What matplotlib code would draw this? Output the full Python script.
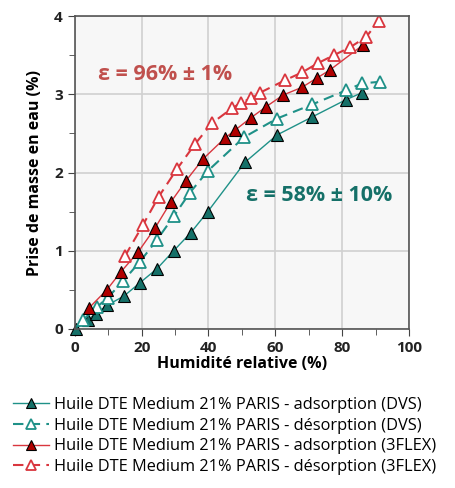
import numpy as np
import matplotlib.pyplot as plt
from matplotlib.ticker import MultipleLocator

plt.rcParams['font.family'] = ['Open Sans', 'DejaVu Sans']

# DVS adsorption
dvs_ads_x = [0.3, 3.9, 6.3, 9.6, 14.7, 19.5, 24.6, 29.6, 34.7, 39.8, 50.9, 60.5, 71.0, 81.1, 85.9]
dvs_ads_y = [0.0, 0.12, 0.19, 0.30, 0.42, 0.59, 0.77, 1.00, 1.23, 1.50, 2.13, 2.48, 2.71, 2.93, 3.02]
# DVS desorption
dvs_des_x = [2.4, 6.6, 9.9, 14.4, 19.5, 24.6, 29.6, 34.4, 39.8, 50.6, 60.5, 71.0, 81.1, 86.0, 91.3]
dvs_des_y = [0.11, 0.28, 0.40, 0.61, 0.86, 1.14, 1.44, 1.74, 2.02, 2.45, 2.69, 2.87, 3.05, 3.14, 3.16]
# 3FLEX adsorption
flex_ads_x = [4.3, 9.6, 13.8, 18.9, 24.0, 28.7, 33.2, 38.3, 44.9, 47.9, 52.7, 57.2, 62.3, 68.0, 72.5, 76.3, 86.2]
flex_ads_y = [0.27, 0.50, 0.73, 0.98, 1.29, 1.62, 1.89, 2.17, 2.44, 2.54, 2.70, 2.84, 2.99, 3.09, 3.21, 3.31, 3.63]
# 3FLEX desorption
flex_des_x = [15.0, 20.4, 25.1, 30.5, 35.9, 41.0, 47.0, 49.7, 52.7, 55.4, 62.9, 68.0, 72.8, 77.5, 82.3, 87.1, 91.0]
flex_des_y = [0.93, 1.33, 1.69, 2.04, 2.36, 2.63, 2.82, 2.89, 2.95, 3.02, 3.18, 3.28, 3.40, 3.50, 3.60, 3.73, 3.94]

labels = [
    "Huile DTE Medium 21% PARIS - adsorption (DVS)",
    "Huile DTE Medium 21% PARIS - désorption (DVS)",
    "Huile DTE Medium 21% PARIS - adsorption (3FLEX)",
    "Huile DTE Medium 21% PARIS - désorption (3FLEX)",
]

teal = "#1f9188"
teal_dark = "#157068"
red = "#d9363e"
red_dark = "#b00000"

fig = plt.figure(figsize=(4.56, 4.88), dpi=100)
ax = fig.add_axes([0.164, 0.326, 0.733, 0.641])
ax.set_facecolor("#f7f7f7")

ms = 8.5
l1, = ax.plot(dvs_ads_x, dvs_ads_y, color=teal, lw=1, marker="^", ms=ms,
              mfc=teal_dark, mec="black", mew=0.8, clip_on=False)
l2, = ax.plot(dvs_des_x, dvs_des_y, color=teal, lw=1.5, ls=(0, (5, 3)), marker="^", ms=ms,
              mfc="white", mec=teal, mew=1.3)
l3, = ax.plot(flex_ads_x, flex_ads_y, color=red, lw=1, marker="^", ms=ms,
              mfc=red_dark, mec="black", mew=0.8)
l4, = ax.plot(flex_des_x, flex_des_y, color=red, lw=1.5, ls=(0, (5, 3)), marker="^", ms=ms,
              mfc="white", mec=red, mew=1.3)

ax.set_xlim(0, 100)
ax.set_ylim(0, 4)
ax.xaxis.set_major_locator(MultipleLocator(20))
ax.xaxis.set_minor_locator(MultipleLocator(10))
ax.yaxis.set_major_locator(MultipleLocator(1))
ax.yaxis.set_minor_locator(MultipleLocator(0.5))
ax.grid(True, which="major", color="#d0d0d0", lw=1.2)
ax.set_axisbelow(True)
ax.tick_params(which="both", direction="out", color="#444444", labelsize=11)
ax.tick_params(which="major", length=5)
ax.tick_params(which="minor", length=4)
for lab in ax.get_xticklabels() + ax.get_yticklabels():
    lab.set_fontweight("bold")
    lab.set_color("#222222")
for s in ax.spines.values():
    s.set_color("#555555")
    s.set_linewidth(1.2)

ax.set_xlabel("Humidité relative (%)", fontsize=11.5, fontweight="bold", labelpad=1)
ax.set_ylabel("Prise de masse en eau (%)", fontsize=11.5, fontweight="bold", labelpad=8)

ax.text(27, 3.25, "ε = 96% ± 1%", color="#c0504d", fontsize=15.5, fontweight="bold",
        ha="center", va="center")
ax.text(73, 1.71, "ε = 58% ± 10%", color="#157068", fontsize=15.5, fontweight="bold",
        ha="center", va="center")

fig.legend([l1, l2, l3, l4], labels, loc="lower left", bbox_to_anchor=(0.0, 0.0),
           frameon=False, fontsize=11.8, handlelength=2.2, handletextpad=0.3,
           labelspacing=0.28, borderaxespad=0.4, markerscale=0.85)

fig.savefig("out.png", dpi=100)
